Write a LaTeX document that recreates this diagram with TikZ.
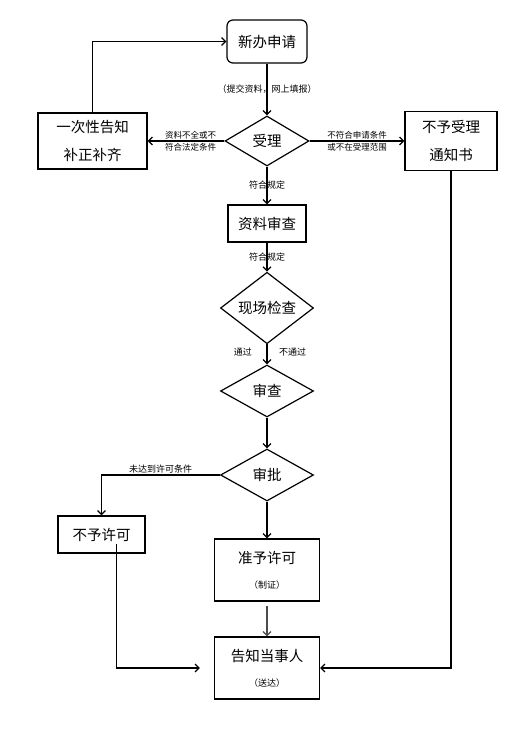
\documentclass[tikz,border=0pt]{standalone}
\usepackage{fontspec}
\setmainfont{Noto Sans CJK SC}
\usetikzlibrary{arrows.meta, positioning, shapes.geometric}

\begin{document}
\begin{tikzpicture}[
    x = 1pt,
    y = -1pt,
    >={Straight Barb[length=4pt,width=8pt]},
    line width = 1.2pt,
    ]

    \tikzstyle{box}=[
    draw = black,
    fill = white,
    align = center,
    inner sep = 0pt,
    font = \fontsize{14.5}{17}\selectfont,
    ]
    \tikzstyle{decision}=[
    box,
    shape = diamond,
    minimum width = 93pt,
    minimum height = 52pt,
    ]
    \tikzstyle{note}=[
    inner sep = 1.5pt,
    font = \fontsize{8.5}{10}\selectfont,
    ]

    \useasboundingbox (0,0) rectangle (519,736);

    \node[box, rounded corners=6pt, minimum width=80pt, minimum height=43pt] (apply) at (267,41.5) {新办申请};
    \node[decision, minimum width=84pt, minimum height=50pt] (accept) [below of=apply, node distance=99.5pt] {受理};
    \node[box, minimum width=109pt, minimum height=56pt] (supply) [left of=accept, node distance=174.5pt] {一次性告知\\[11pt]补正补齐};
    \node[box, minimum width=92pt, minimum height=59pt] (reject) [right of=accept, node distance=184pt] {不予受理\\[11pt]通知书};
    \node[box, minimum width=78pt, minimum height=37pt] (review) [below of=accept, node distance=82.5pt] {资料审查};
    \node[decision] (inspect) [below of=review, node distance=84.5pt] {现场检查};
    \node[decision] (check) [below of=inspect, node distance=83pt] {审查};
    \node[decision] (approve) [below of=check, node distance=84pt] {审批};
    \node[box, minimum width=87pt, minimum height=37pt] (deny) [left of=approve, node distance=165.5pt, yshift=-59.5pt] {不予许可};
    \node[box, minimum width=105pt, minimum height=62pt] (grant) [below of=approve, node distance=95pt] {准予许可\\[8pt]{\fontsize{9}{10}\selectfont （制证）}};
    \node[box, minimum width=105pt, minimum height=62pt] (inform) [below of=grant, node distance=98pt] {告知当事人\\[8pt]{\fontsize{9}{10}\selectfont （送达）}};
    \coordinate (denyout) at ([xshift=15pt, yshift=-9pt]deny.center);

    \draw[->] (apply) -- node[note, font=\fontsize{9}{10}\selectfont] {（提交资料，网上填报）} (accept);
    \draw[->] (accept) -- node[note, pos=0.44, above] {资料不全或不} node[note, pos=0.44, below] {符合法定条件} (supply);
    \draw[->] (accept) -- node[note, above] {不符合申请条件} node[note, below] {或不在受理范围} (reject);
    \draw[->] (supply) |- (apply);
    \draw[->] (accept) -- node[note, font=\fontsize{9}{10}\selectfont] {符合规定} (review);
    \draw[->] (review) -- node[note, font=\fontsize{9}{10}\selectfont] {符合规定} (inspect);
    \draw[->] (inspect) -- node[note, pos=0.4, left=13pt, font=\fontsize{9}{10}\selectfont] {通过} node[note, pos=0.4, right=10pt, font=\fontsize{9}{10}\selectfont] {不通过} (check);
    \draw[->] (check) -- (approve);
    \draw[->] (approve) -| node[note, pos=0.25, above, font=\fontsize{9}{10}\selectfont] {未达到许可条件} (deny);
    \draw[->] (approve) -- (grant);
    \draw[->, black!70, shorten <=4pt] (grant) -- (inform);
    \draw[->, shorten >=14pt] (denyout) |- (inform);
    \draw[->] (reject) |- (inform);
\end{tikzpicture}
\end{document}
